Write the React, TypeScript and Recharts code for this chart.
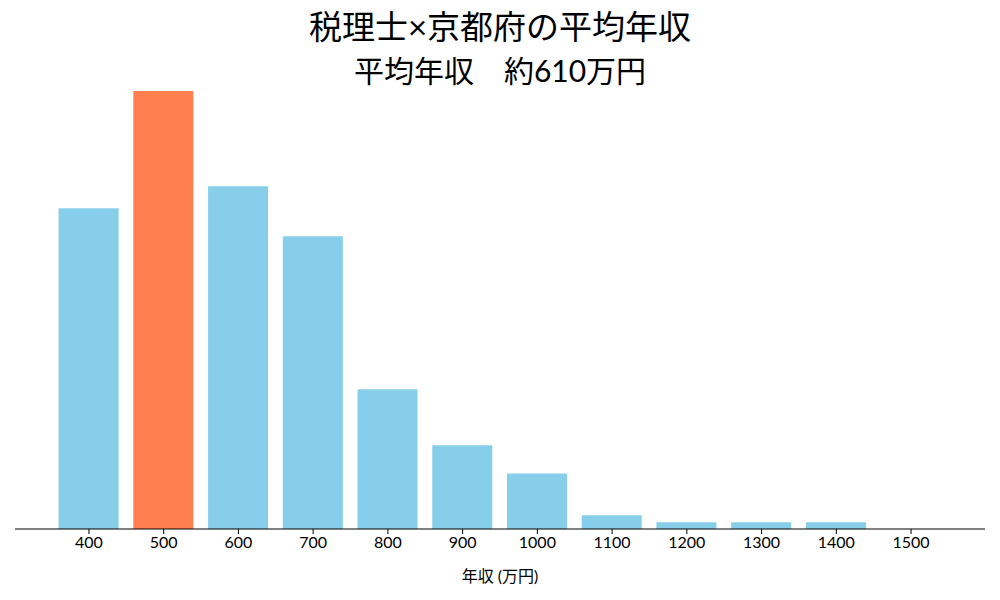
import React from "react";
import { BarChart, Bar, XAxis, YAxis, Cell } from "recharts";

const categories = ["400", "500", "600", "700", "800", "900", "1000", "1100", "1200", "1300", "1400", "1500"];
const counts = [46.8, 63.9, 50.0, 42.7, 20.4, 12.2, 8.1, 2.0, 1.0, 1.0, 1.0, 0];
const highlightCategory = "500";
const titleLine1 = "税理士×京都府の平均年収";
const titleLine2 = "平均年収　約610万円";
const xLabel = "年収 (万円)";

const data = categories.map((c, i) => ({ name: c, value: counts[i] }));
const yMax = Math.max(...counts) * 1.05;
const FONT = "Lato, 'Noto Sans CJK JP', sans-serif";

export default function App() {
  return (
    <div style={{ position: "absolute", left: 0, top: 0, width: 1000, height: 600, background: "#fff", fontFamily: FONT }}>
      <div style={{ position: "absolute", left: 0, top: 6, width: 1000, textAlign: "center", fontSize: 33, lineHeight: "40px", color: "#000" }}>
        {titleLine1}
      </div>
      <div style={{ position: "absolute", left: 0, top: 50, width: 1000, textAlign: "center", fontSize: 30, lineHeight: "40px", color: "#000" }}>
        {titleLine2}
      </div>
      <BarChart width={1000} height={600} data={data} margin={{ top: 69, right: 15, bottom: 31, left: 15 }}>
        <XAxis
          dataKey="name"
          height={40}
          padding={{ left: 36.6, right: 36.6 }}
          axisLine={{ stroke: "#000", strokeWidth: 1 }}
          tickLine={{ stroke: "#000" }}
          tickSize={5}
          tickMargin={3}
          interval={0}
          tick={{ fill: "#000", fontSize: 16, fontFamily: FONT }}
        />
        <YAxis hide domain={[0, yMax]} />
        <Bar dataKey="value" barSize={60} isAnimationActive={false}>
          {data.map((d) => (
            <Cell key={d.name} fill={d.name === highlightCategory ? "#FF7F50" : "#87CEEB"} />
          ))}
        </Bar>
      </BarChart>
      <div style={{ position: "absolute", left: 0, top: 565, width: 1000, textAlign: "center", fontSize: 16, lineHeight: "22px", color: "#000" }}>
        {xLabel}
      </div>
    </div>
  );
}
